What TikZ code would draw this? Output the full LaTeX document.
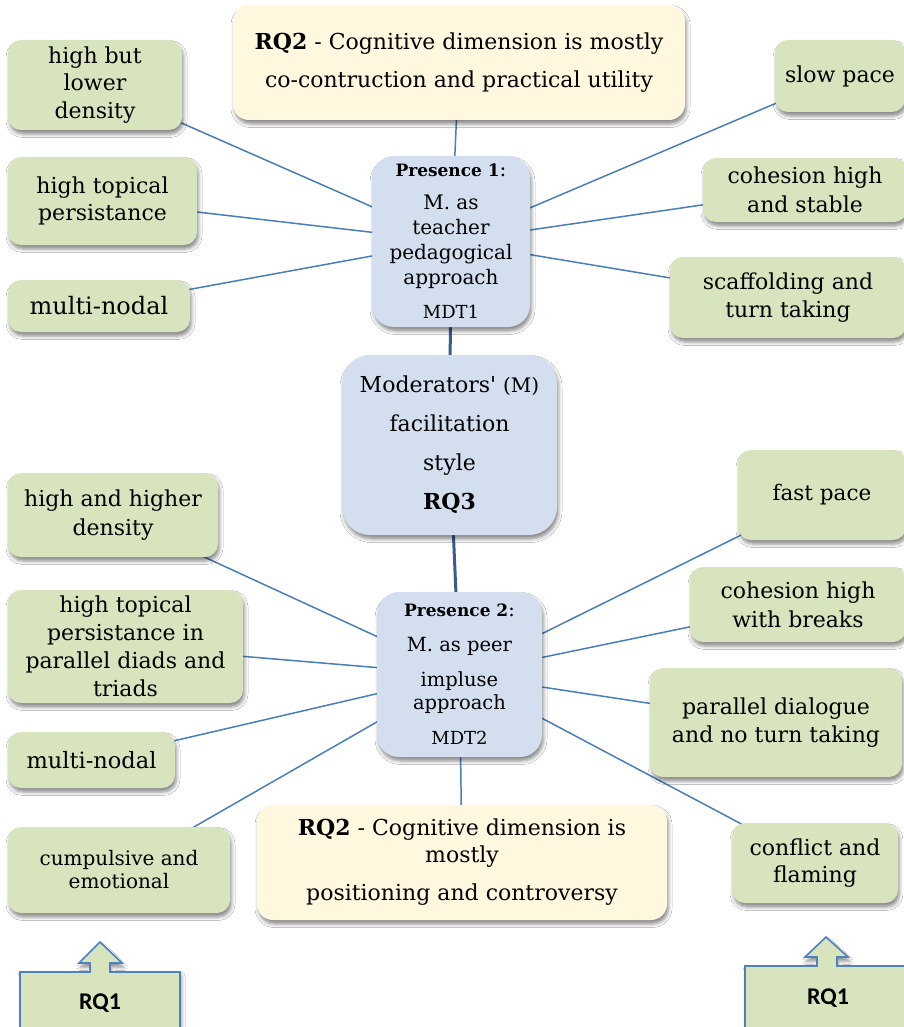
\documentclass[tikz,border=0pt]{standalone}
\usepackage{fontspec}
\setmainfont{DejaVu Serif}
\newfontfamily\rqfont{Carlito}
\usetikzlibrary{shadows.blur,backgrounds}

\definecolor{leafgreen}{HTML}{D7E4BD}
\definecolor{hubblue}{HTML}{D3DEEF}
\definecolor{noteyellow}{HTML}{FFF8DE}
\definecolor{wire}{HTML}{4A7EBB}
\definecolor{spine}{HTML}{385D8A}
\definecolor{rqedge}{HTML}{4F81BD}

\begin{document}
\begin{tikzpicture}[x=1pt,y=-1pt,
  shadowed/.style={blur shadow={shadow xshift=1.5pt,shadow yshift=-4pt,shadow blur radius=3.5pt,shadow opacity=45}},
  leaf/.style={shadowed,fill=leafgreen,rounded corners=13pt,align=center,inner sep=0pt,
    font=\fontsize{22}{27.5}\selectfont},
  hub/.style={shadowed,fill=hubblue,align=center,inner sep=0pt},
  note/.style={shadowed,fill=noteyellow,rounded corners=16pt,align=center,inner sep=0pt},
  wireline/.style={draw=wire,line width=1.5pt},
  spineline/.style={draw=spine,line width=3pt},
  rqshape/.style={shadowed,draw=rqedge,line width=1.6pt,fill=leafgreen,line join=miter},
  rqtext/.style={font=\rqfont\bfseries\fontsize{24}{28}\selectfont,inner sep=0pt}
]
\useasboundingbox (0,0) rectangle (903,1027);

% ---- central hubs
\node[hub,rounded corners=22pt,minimum width=158pt,minimum height=171pt,
      font=\fontsize{20}{25}\selectfont] (p1) at (451,241.5)
  {{\fontsize{17}{20}\selectfont\bfseries Presence 1}:\\[8pt]
   M. as\\ teacher\\ pedagogical\\ approach\\[9pt]
   {\fontsize{18}{20}\selectfont MDT1}};
\node[hub,rounded corners=28pt,minimum width=215pt,minimum height=180pt,
      font=\fontsize{22}{39}\selectfont] (mod) at (449.5,445)
  {Moderators\textquotesingle{} {\fontsize{20}{20}\selectfont (M)}\\ facilitation\\ style\\ \textbf{RQ3}};
\node[hub,rounded corners=22pt,minimum width=165pt,minimum height=165pt,
      font=\fontsize{19.5}{35}\selectfont] (p2) at (459.5,674.5)
  {{\fontsize{17}{20}\selectfont\bfseries Presence 2}:\\ M. as peer\\ impluse\\[-12pt] approach\\
   {\fontsize{18}{20}\selectfont MDT2}};

% ---- RQ2 notes
\node[note,minimum width=452pt,minimum height=115pt,font=\fontsize{22}{38}\selectfont] (rqa) at (459,62.5)
  {\textbf{RQ2} - Cognitive dimension is mostly\\ co-contruction and practical utility};
\node[note,minimum width=410pt,minimum height=115pt,font=\fontsize{22}{27}\selectfont] (rqb) at (462,862.5)
  {\textbf{RQ2} - Cognitive dimension is\\ mostly\\[11pt] positioning and controversy};

% ---- features of presence 1
\node[leaf,minimum width=174pt,minimum height=90pt] (hb) at (95,85) {high but\\ lower\\ density};
\node[leaf,minimum width=189pt,minimum height=88pt] (ht) at (102.5,201) {high topical\\ persistance};
\node[leaf,minimum width=182pt,minimum height=52pt,font=\fontsize{24}{28}\selectfont] (mna) at (99,306) {multi-nodal};
\node[leaf,minimum width=130pt,minimum height=72pt] (sp) at (840,76) {slow pace};
\node[leaf,minimum width=204pt,minimum height=64pt,font=\fontsize{22}{28.5}\selectfont] (ch) at (805,190) {cohesion high\\ and stable};
\node[leaf,minimum width=236pt,minimum height=81pt,font=\fontsize{22}{28}\selectfont] (sc) at (788,297.5) {scaffolding and\\ turn taking};

% ---- features of presence 2
\node[leaf,minimum width=210pt,minimum height=84pt,font=\fontsize{22}{29}\selectfont] (hh) at (113,515) {high and higher\\ density};
\node[leaf,minimum width=235pt,minimum height=113pt,font=\fontsize{22}{28}\selectfont] (htp) at (125.5,646.5)
  {high topical\\ persistance in\\ parallel diads and\\ triads};
\node[leaf,minimum width=167pt,minimum height=56pt,font=\fontsize{22.5}{28}\selectfont] (mnb) at (91.5,760) {multi-nodal};
\node[leaf,minimum width=222pt,minimum height=86pt,font=\fontsize{20}{23}\selectfont] (cu) at (119,870) {cumpulsive and\\ emotional};
\node[leaf,minimum width=168pt,minimum height=90pt,font=\fontsize{21.5}{27}\selectfont] (fp) at (822,495) {fast pace};
\node[leaf,minimum width=216pt,minimum height=75pt,font=\fontsize{22}{29}\selectfont] (cb) at (798,604.5) {cohesion high\\ with breaks};
\node[leaf,minimum width=252pt,minimum height=109pt,font=\fontsize{22}{28}\selectfont] (pd) at (776,722.5) {parallel dialogue\\ and no turn taking};
\node[leaf,minimum width=166pt,minimum height=80pt,font=\fontsize{22}{27}\selectfont] (cf) at (815,863) {conflict and\\ flaming};

% ---- RQ1 labels with upward arrows
\draw[rqshape] (20,1040) -- (20,972) -- (90,972) -- (90,963) -- (79,963) -- (100,942)
  -- (122,963) -- (110,963) -- (110,972) -- (180,972) -- (180,1040);
\node[rqtext] (rql) at (100,1003) {RQ1};
\draw[rqshape] (745,1040) -- (745,966) -- (817,966) -- (817,957) -- (805,957) -- (826,937)
  -- (848,957) -- (837,957) -- (837,966) -- (910,966) -- (910,1040);
\node[rqtext] (rqr) at (828,998) {RQ1};

% ---- connectors, centre to centre behind the boxes
\begin{scope}[on background layer]
  \fill[white] (0,0) rectangle (903,1027);
  \foreach \a in {rqa,hb,ht,mna,sp,ch,sc}
    \draw[wireline] (\a.center) -- (p1.center);
  \foreach \a in {hh,htp,mnb,cu,fp,cb,pd,cf,rqb}
    \draw[wireline] (\a.center) -- (p2.center);
  \draw[spineline] (p1.center) -- (mod.center);
  \draw[spineline] (mod.center) -- (p2.center);
\end{scope}
\end{tikzpicture}
\end{document}
